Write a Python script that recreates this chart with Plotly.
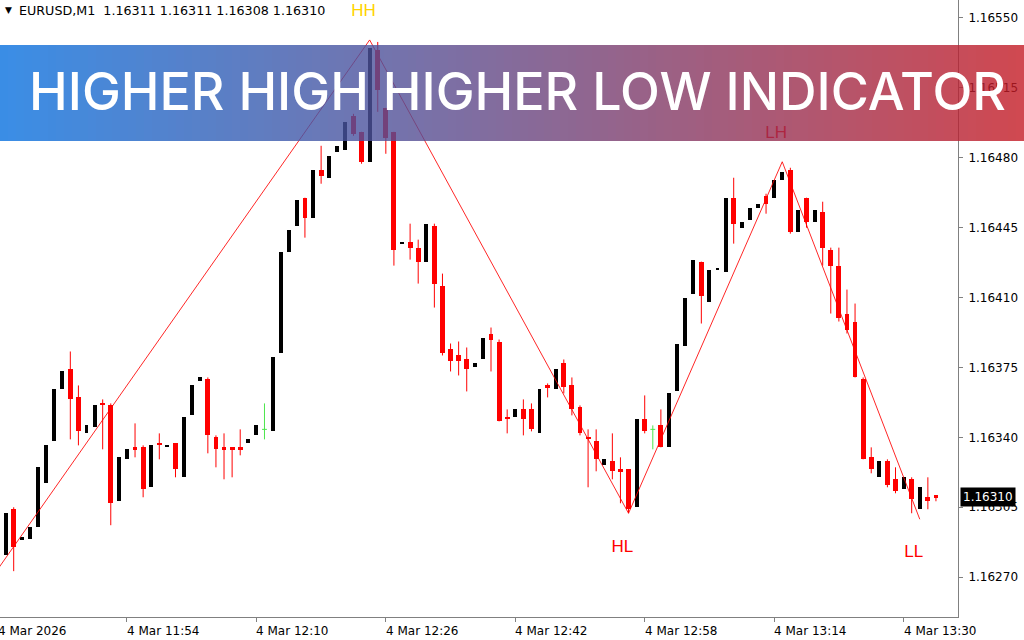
import plotly.graph_objects as go
import pandas as pd

# ---------------- data ----------------
symbol_line = "EURUSD,M1  1.16311 1.16311 1.16308 1.16310"
first_bar = "2026-03-04 11:39"

open_ = [1.16281, 1.16304, 1.16289, 1.16289, 1.16295, 1.16317, 1.16338, 1.16364, 1.16374, 1.16360,
         1.16342, 1.16345, 1.16357, 1.16356, 1.16308, 1.16329, 1.16335, 1.16335, 1.16315, 1.16337,
         1.16335, 1.16337, 1.16320, 1.16351, 1.16368, 1.16369, 1.16340, 1.16335, 1.16335, 1.16335,
         1.16337, 1.16341, 1.16344, 1.16343, 1.16382, 1.16433, 1.16446, 1.16460, 1.16450, 1.16474,
         1.16470, 1.16483, 1.16484, 1.16501, 1.16493, 1.16478, 1.16534, 1.16505, 1.16493, 1.16437,
         1.16438, 1.16435, 1.16428, 1.16446, 1.16416, 1.16384, 1.16381, 1.16379, 1.16375, 1.16379,
         1.16392, 1.16388, 1.16350, 1.16350, 1.16354, 1.16354, 1.16342, 1.16366, 1.16364, 1.16377,
         1.16366, 1.16355, 1.16340, 1.16338, 1.16326, 1.16328, 1.16324, 1.16324, 1.16305, 1.16349,
         1.16344, 1.16346, 1.16335, 1.16363, 1.16386, 1.16412, 1.16428, 1.16408, 1.16424, 1.16423,
         1.16460, 1.16445, 1.16449, 1.16455, 1.16461, 1.16460, 1.16469, 1.16474, 1.16443, 1.16460,
         1.16448, 1.16453, 1.16434, 1.16426, 1.16402, 1.16398, 1.16369, 1.16330, 1.16320, 1.16328,
         1.16319, 1.16314, 1.16319, 1.16304, 1.16310, 1.16311]
high = [1.16302, 1.16305, 1.16290, 1.16295, 1.16325, 1.16336, 1.16364, 1.16373, 1.16383, 1.16366,
        1.16346, 1.16356, 1.16359, 1.16357, 1.16330, 1.16334, 1.16347, 1.16336, 1.16336, 1.16342,
        1.16336, 1.16337, 1.16350, 1.16366, 1.16370, 1.16370, 1.16341, 1.16342, 1.16335, 1.16344,
        1.16339, 1.16346, 1.16357, 1.16380, 1.16433, 1.16444, 1.16459, 1.16460, 1.16474, 1.16486,
        1.16481, 1.16486, 1.16498, 1.16502, 1.16493, 1.16539, 1.16538, 1.16505, 1.16493, 1.16438,
        1.16447, 1.16439, 1.16447, 1.16447, 1.16422, 1.16387, 1.16388, 1.16385, 1.16377, 1.16390,
        1.16395, 1.16389, 1.16354, 1.16354, 1.16359, 1.16357, 1.16364, 1.16367, 1.16374, 1.16379,
        1.16370, 1.16356, 1.16344, 1.16344, 1.16329, 1.16342, 1.16330, 1.16324, 1.16349, 1.16361,
        1.16346, 1.16354, 1.16362, 1.16387, 1.16410, 1.16429, 1.16428, 1.16424, 1.16425, 1.16460,
        1.16470, 1.16448, 1.16455, 1.16457, 1.16462, 1.16469, 1.16478, 1.16475, 1.16454, 1.16460,
        1.16454, 1.16458, 1.16435, 1.16435, 1.16414, 1.16407, 1.16370, 1.16335, 1.16328, 1.16329,
        1.16325, 1.16320, 1.16320, 1.16315, 1.16320, 1.16311]
low = [1.16281, 1.16273, 1.16289, 1.16289, 1.16295, 1.16317, 1.16338, 1.16364, 1.16339, 1.16336,
       1.16342, 1.16345, 1.16334, 1.16296, 1.16308, 1.16329, 1.16330, 1.16310, 1.16315, 1.16329,
       1.16335, 1.16320, 1.16320, 1.16351, 1.16368, 1.16332, 1.16325, 1.16319, 1.16320, 1.16331,
       1.16337, 1.16341, 1.16339, 1.16343, 1.16382, 1.16433, 1.16446, 1.16440, 1.16450, 1.16467,
       1.16470, 1.16483, 1.16484, 1.16491, 1.16477, 1.16478, 1.16503, 1.16482, 1.16426, 1.16437,
       1.16429, 1.16417, 1.16428, 1.16405, 1.16381, 1.16373, 1.16371, 1.16363, 1.16375, 1.16379,
       1.16373, 1.16348, 1.16342, 1.16350, 1.16341, 1.16343, 1.16342, 1.16360, 1.16364, 1.16362,
       1.16351, 1.16341, 1.16315, 1.16323, 1.16326, 1.16319, 1.16307, 1.16302, 1.16305, 1.16342,
       1.16334, 1.16335, 1.16335, 1.16363, 1.16386, 1.16412, 1.16397, 1.16408, 1.16424, 1.16423,
       1.16437, 1.16445, 1.16449, 1.16455, 1.16452, 1.16460, 1.16469, 1.16442, 1.16443, 1.16445,
       1.16448, 1.16426, 1.16402, 1.16398, 1.16392, 1.16370, 1.16329, 1.16322, 1.16320, 1.16315,
       1.16312, 1.16314, 1.16302, 1.16299, 1.16304, 1.16308]
close = [1.16302, 1.16285, 1.16290, 1.16295, 1.16325, 1.16336, 1.16364, 1.16373, 1.16359, 1.16343,
         1.16346, 1.16356, 1.16356, 1.16307, 1.16330, 1.16334, 1.16334, 1.16314, 1.16336, 1.16336,
         1.16336, 1.16324, 1.16350, 1.16366, 1.16370, 1.16341, 1.16334, 1.16334, 1.16334, 1.16334,
         1.16339, 1.16346, 1.16344, 1.16380, 1.16433, 1.16444, 1.16459, 1.16450, 1.16474, 1.16471,
         1.16481, 1.16486, 1.16498, 1.16492, 1.16478, 1.16535, 1.16514, 1.16490, 1.16434, 1.16438,
         1.16435, 1.16428, 1.16447, 1.16417, 1.16382, 1.16378, 1.16378, 1.16374, 1.16377, 1.16390,
         1.16389, 1.16348, 1.16349, 1.16354, 1.16349, 1.16344, 1.16364, 1.16365, 1.16374, 1.16365,
         1.16354, 1.16342, 1.16339, 1.16329, 1.16329, 1.16323, 1.16323, 1.16304, 1.16349, 1.16343,
         1.16344, 1.16335, 1.16362, 1.16387, 1.16410, 1.16429, 1.16411, 1.16424, 1.16425, 1.16460,
         1.16447, 1.16448, 1.16455, 1.16457, 1.16457, 1.16469, 1.16473, 1.16443, 1.16454, 1.16448,
         1.16454, 1.16435, 1.16426, 1.16400, 1.16394, 1.16370, 1.16329, 1.16324, 1.16328, 1.16316,
         1.16313, 1.16320, 1.16309, 1.16315, 1.16308, 1.16310]

# zigzag: minute offsets of pivots from first bar (first pivot is off-screen)
zigzag_bars = [-2, 45, 77, 96, 113]
zigzag_start_price = 1.16268
pivot_labels = ["HH", "HL", "LH", "LL"]
pivot_colors = ["#FFD400", "#FF0000", "#FF0000", "#FF0000"]

price_ticks = [1.16270, 1.16305, 1.16340, 1.16375, 1.16410, 1.16445, 1.16480, 1.16515, 1.16550]
time_tick_bars = [-1, 15, 31, 47, 63, 79, 95, 111]
time_tick_labels = ["4 Mar 2026", "4 Mar 11:54", "4 Mar 12:10", "4 Mar 12:26",
                    "4 Mar 12:42", "4 Mar 12:58", "4 Mar 13:14", "4 Mar 13:30"]
last_price = 1.16310
banner_text = "HIGHER HIGH HIGHER LOW INDICATOR"

# ---------------- layout constants ----------------
W, H = 1024, 640
PLOT_W, PLOT_H = 958, 617
PX_PER_BAR = 8.09
X_LO = -0.692
X_HI = X_LO + PLOT_W / PX_PER_BAR
Y_LO, Y_HI = 1.1625005, 1.165590
PX_PRICE = (Y_HI - Y_LO) / PLOT_H   # price per pixel

t0 = pd.Timestamp(first_bar)
minute = pd.Timedelta(minutes=1)
times = [t0 + i * minute for i in range(len(open_))]


def bar_time(m):
    return t0 + pd.Timedelta(minutes=m)


def bar_paper(m):
    return (m - X_LO) / (X_HI - X_LO)


BULL, BEAR, DOJI = "#000000", "#FF0000", "#4CE64C"

fig = go.Figure()

# bodies
for color, sel, wdt in [(BULL, lambda o, c: c > o, 0.48), (BEAR, lambda o, c: c < o, 0.6)]:
    xs, bases, hs = [], [], []
    for t, o, c in zip(times, open_, close):
        if sel(o, c):
            xs.append(t)
            bases.append(min(o, c))
            hs.append(abs(c - o))
    fig.add_trace(go.Bar(x=xs, y=hs, base=bases, width=wdt * 60000,
                         marker=dict(color=color, line=dict(width=0)), hoverinfo="skip"))

# wicks (bear + doji); bull wicks are invisible in the reference
for color, sel in [(BEAR, lambda o, c: c < o), (DOJI, lambda o, c: c == o)]:
    wx, wy = [], []
    for t, o, h, l, c in zip(times, open_, high, low, close):
        if sel(o, c):
            wx += [t, t, None]
            wy += [l, h, None]
            if o == c:
                wx += [t - 0.3 * minute, t + 0.3 * minute, None]
                wy += [o, o, None]
    fig.add_trace(go.Scatter(x=wx, y=wy, mode="lines", line=dict(color=color, width=1),
                             hoverinfo="skip"))

# zigzag
zz_prices = [zigzag_start_price, high[zigzag_bars[1]], low[zigzag_bars[2]],
             high[zigzag_bars[3]], low[zigzag_bars[4]]]
fig.add_trace(go.Scatter(x=[bar_time(m) for m in zigzag_bars], y=zz_prices, mode="lines",
                         line=dict(color="rgba(255,0,0,0.85)", width=1), hoverinfo="skip"))

# pivot labels
lab_y = []
for name, p in zip(pivot_labels, zz_prices[1:]):
    lab_y.append(p + 28 * PX_PRICE if name in ("HH", "LH") else p - 34 * PX_PRICE)
fig.add_trace(go.Scatter(x=[bar_time(m - 0.75) for m in zigzag_bars[1:]], y=lab_y,
                         mode="text", text=pivot_labels,
                         textfont=dict(family="Liberation Sans", size=17, color=pivot_colors),
                         hoverinfo="skip"))

# ---------------- banner (gradient) ----------------
shapes = []
N = 128
left_rgb = (58, 142, 230)
right_rgb = (208, 72, 80)
alpha = 0.8
slice_px = W / N
y_top = 1 - 45 / PLOT_H
y_bot = 1 - 141 / PLOT_H
for k in range(N):
    t = (k + 0.5) / N
    obs = [left_rgb[j] + (right_rgb[j] - left_rgb[j]) * t for j in range(3)]
    fill = [max(0, min(255, round((v - 255 * (1 - alpha)) / alpha))) for v in obs]
    shapes.append(dict(type="rect", xref="paper", yref="paper",
                       x0=k * slice_px / PLOT_W, x1=(k + 1) * slice_px / PLOT_W,
                       y0=y_bot, y1=y_top, line=dict(width=0),
                       fillcolor="rgb(%d,%d,%d)" % tuple(fill), opacity=alpha, layer="above"))

annotations = [
    dict(text=banner_text, xref="paper", yref="paper", x=517 / PLOT_W, y=1 - 91 / PLOT_H,
         xanchor="center", yanchor="middle", showarrow=False,
         font=dict(family="Inter", size=52, color="white", weight=500)),
    dict(text="\u25BC", xref="paper", yref="paper", x=3 / PLOT_W, y=1 - 10 / PLOT_H,
         xanchor="left", yanchor="middle", showarrow=False,
         font=dict(family="DejaVu Sans", size=9, color="black")),
    dict(text=symbol_line.replace("  ", "&nbsp; "), xref="paper", yref="paper", x=17 / PLOT_W,
         y=1 - 11 / PLOT_H, xanchor="left", yanchor="middle", showarrow=False,
         font=dict(family="DejaVu Sans", size=12.7, color="black")),
    dict(text="%.5f" % last_price, xref="paper", yref="y", x=1 + 2 / PLOT_W, y=last_price,
         xanchor="left", yanchor="middle", showarrow=False, bgcolor="black",
         borderpad=2, font=dict(family="DejaVu Sans", size=12, color="white")),
]
for m, lab in zip(time_tick_bars, time_tick_labels):
    annotations.append(dict(text=lab, xref="paper", yref="paper", x=bar_paper(m) - 2 / PLOT_W,
                            y=-5 / PLOT_H, xanchor="left", yanchor="top", showarrow=False,
                            font=dict(family="DejaVu Sans", size=12, color="black")))

fig.update_layout(
    width=W, height=H, margin=dict(l=0, r=W - PLOT_W, t=0, b=H - PLOT_H),
    paper_bgcolor="white", plot_bgcolor="white", showlegend=False,
    barmode="overlay", bargap=0,
    shapes=shapes, annotations=annotations,
    xaxis=dict(type="date", range=[bar_time(X_LO), bar_time(X_HI)], showgrid=False,
               zeroline=False, showline=True, linecolor="#808080", linewidth=1,
               ticks="outside", ticklen=4, tickcolor="#808080",
               tickvals=[bar_time(m) for m in time_tick_bars], showticklabels=False,
               fixedrange=True),
    yaxis=dict(side="right", range=[Y_LO, Y_HI], showgrid=False, zeroline=False,
               showline=True, linecolor="#808080", linewidth=1, ticks="outside",
               ticklen=4, tickcolor="#808080", tickvals=price_ticks,
               ticktext=["%.5f" % v for v in price_ticks], ticklabelstandoff=3,
               tickfont=dict(family="DejaVu Sans", size=12, color="black"), fixedrange=True),
)

fig.write_html("out.html", config={"displayModeBar": False},
               post_script="document.body.style.margin='0';document.body.style.overflow='hidden';")
